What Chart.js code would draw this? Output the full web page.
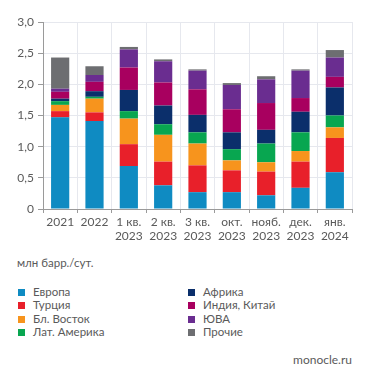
<!DOCTYPE html>
<html lang="ru">
<head>
<meta charset="utf-8">
<title>Экспорт нефти</title>
<script src="https://cdn.jsdelivr.net/npm/chart.js@4/dist/chart.umd.min.js"></script>
<style>
  html, body { margin: 0; padding: 0; background: #fff; }
  body { width: 371px; height: 383px; position: relative; overflow: hidden;
         font-family: Lato, "Open Sans", sans-serif; color: #5a5a5a; }
  #wrap { position: absolute; left: 0; top: 0; width: 371px; height: 250px; }
  .unit { position: absolute; left: 17px; top: 256px; font-size: 11.5px; color: #5a5a5a; }
  .legend { position: absolute; top: 285px; font-size: 11.5px; color: #5a5a5a; }
  .legend div { height: 13.3px; line-height: 13.3px; white-space: nowrap; }
  .legend i { display: inline-block; width: 7px; height: 7px; margin: 0 8px 0 0; vertical-align: 0; }
  .src { position: absolute; right: 19px; top: 352px; font-size: 12px; color: #5a5a5a; }
</style>
</head>
<body>
<div id="wrap"><canvas id="chart" width="371" height="250"></canvas></div>
<div class="unit">млн барр./сут.</div>
<div class="legend" id="leg1" style="left:18px"></div>
<div class="legend" id="leg2" style="left:188px"></div>
<div class="src">monocle.ru</div>

<script>
/* ── Data ───────────────────────────────────────── */
const categories = [['2021'], ['2022'], ['1 кв.', '2023'], ['2 кв.', '2023'], ['3 кв.', '2023'],
                    ['окт.', '2023'], ['нояб.', '2023'], ['дек.', '2023'], ['янв.', '2024']];

const europe   = [1.47, 1.41, 0.69, 0.38, 0.27, 0.27, 0.22, 0.34, 0.59];
const turkey   = [0.10, 0.14, 0.35, 0.38, 0.43, 0.35, 0.38, 0.42, 0.55];
const mideast  = [0.10, 0.22, 0.41, 0.43, 0.35, 0.16, 0.15, 0.17, 0.17];
const latam    = [0.06, 0.03, 0.12, 0.17, 0.18, 0.18, 0.30, 0.30, 0.19];
const africa   = [0.04, 0.09, 0.34, 0.30, 0.28, 0.27, 0.22, 0.33, 0.45];
const indiaCn  = [0.11, 0.15, 0.36, 0.37, 0.41, 0.37, 0.43, 0.22, 0.17];
const sea      = [0.05, 0.11, 0.29, 0.34, 0.30, 0.39, 0.38, 0.44, 0.31];
const others   = [0.50, 0.14, 0.04, 0.03, 0.02, 0.03, 0.05, 0.02, 0.12];

const yTicks = [0, 0.5, 1, 1.5, 2, 2.5, 3];

const series = [
  { label: 'Европа',        data: europe,  color: '#0f8bc2' },
  { label: 'Турция',        data: turkey,  color: '#e8202a' },
  { label: 'Бл. Восток',    data: mideast, color: '#f7941d' },
  { label: 'Лат. Америка',  data: latam,   color: '#08a650' },
  { label: 'Африка',        data: africa,  color: '#0b2f6b' },
  { label: 'Индия, Китай',  data: indiaCn, color: '#a8005f' },
  { label: 'ЮВА',           data: sea,     color: '#6a2d90' },
  { label: 'Прочие',        data: others,  color: '#6d6e71' }
];

/* ── Legend (HTML, two columns) ─────────────────── */
series.forEach((s, i) => {
  const row = document.createElement('div');
  row.innerHTML = `<i style="background:${s.color}"></i>${s.label}`;
  document.getElementById(i < 4 ? 'leg1' : 'leg2').appendChild(row);
});

/* ── Chart ──────────────────────────────────────── */
const gridColor = '#e6e8ee';
const axisColor = '#9a9a9a';
const labelColor = '#5a5a5a';

new Chart(document.getElementById('chart').getContext('2d'), {
  type: 'bar',
  data: {
    labels: categories,
    datasets: series.map(s => ({
      label: s.label,
      data: s.data,
      backgroundColor: s.color,
      borderWidth: 0,
      barPercentage: 0.53,
      categoryPercentage: 1
    }))
  },
  options: {
    responsive: false,
    animation: false,
    devicePixelRatio: 1,
    layout: { padding: { top: 22, right: 19, bottom: 0, left: 0 } },
    plugins: { legend: { display: false }, tooltip: { enabled: false } },
    scales: {
      x: {
        stacked: true,
        grid: { color: gridColor, tickColor: axisColor, tickLength: 4, offset: true },
        border: { color: axisColor },
        ticks: { color: labelColor, font: { family: 'Lato', size: 12 }, padding: 2, maxRotation: 0, autoSkip: false },
        afterFit: scale => { scale.height = 41; }
      },
      y: {
        stacked: true,
        min: 0,
        max: 3,
        afterBuildTicks: scale => { scale.ticks = yTicks.map(v => ({ value: v })); },
        grid: { color: gridColor, tickColor: axisColor, tickLength: 5 },
        border: { color: axisColor },
        ticks: {
          color: labelColor,
          font: { family: 'Lato', size: 12 },
          padding: 4,
          callback: v => v === 0 ? '0' : v.toFixed(1).replace('.', ',')
        },
        afterFit: scale => { scale.width = 43; }
      }
    }
  }
});
</script>
</body>
</html>
